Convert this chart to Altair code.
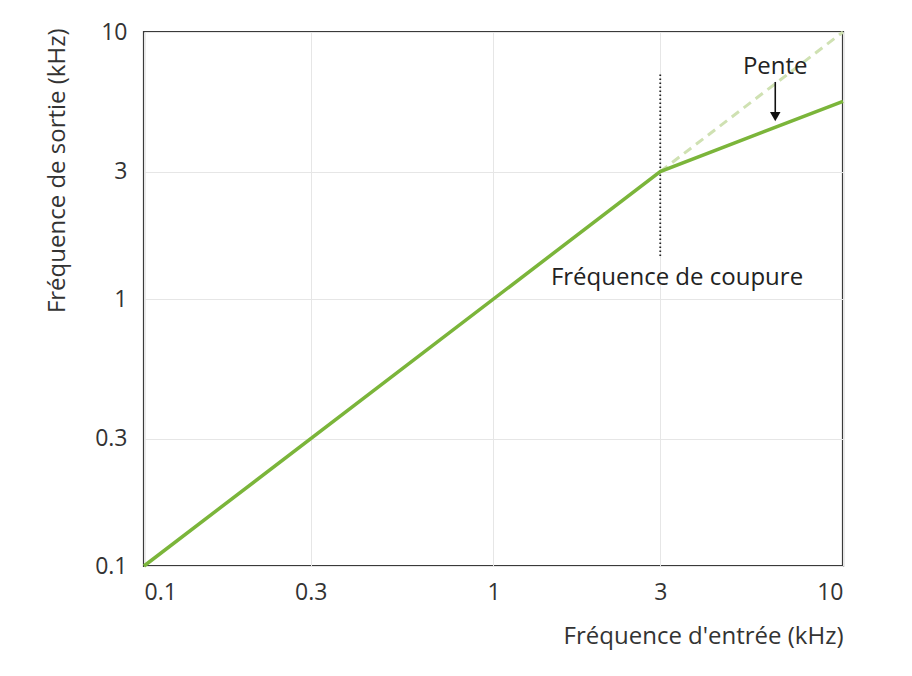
import altair as alt
import pandas as pd

# Data
main_x = [0.1, 3.0, 10.0]
main_y = [0.1, 3.0, 5.5]
dash_x = [3.0, 10.0]
dash_y = [3.0, 10.0]
cut_x = [3.0, 3.0]
cut_y = [1.45, 7.0]
arrow_x = [6.4, 6.4]
arrow_y = [6.5, 4.95]
head_x = [6.4]
head_y = [4.82]
tick_vals = [0.1, 0.3, 1, 3, 10]
notes = ["Pente", "Fréquence de coupure"]
note_x = [6.4, 3.35]
note_y = [6.95, 1.13]

FONT = "Open Sans"

xs = alt.Scale(type="log", domain=[0.1, 10], nice=False)
ys = alt.Scale(type="log", domain=[0.1, 10], nice=False)

xaxis = alt.Axis(values=tick_vals, format="~g", title="Fréquence d'entrée (kHz)",
                 grid=True, gridColor="#e6e6e6", ticks=False, tickSize=0, domain=False,
                 labelFont=FONT, labelFontSize=23, labelColor="#333", labelPadding=15,
                 titleFont=FONT, titleFontSize=24, titleFontWeight="normal", titleColor="#333",
                 titleAnchor="end", titleAlign="right", titleX=699, titleY=77,
                 titleBaseline="alphabetic")
yaxis = alt.Axis(values=tick_vals, format="~g", title="Fréquence de sortie (kHz)",
                 grid=True, gridColor="#e6e6e6", ticks=False, tickSize=0, domain=False,
                 labelFont=FONT, labelFontSize=23, labelColor="#333", labelPadding=17,
                 titleFont=FONT, titleFontSize=24, titleFontWeight="normal", titleColor="#333",
                 titleAngle=-90, titleAlign="right", titleX=-80, titleY=-4,
                 titleBaseline="alphabetic")

main_df = pd.DataFrame({"x": main_x, "y": main_y})
dash_df = pd.DataFrame({"x": dash_x, "y": dash_y})
cut_df = pd.DataFrame({"x": cut_x, "y": cut_y})
arrow_df = pd.DataFrame({"x": arrow_x, "y": arrow_y})
head_df = pd.DataFrame({"x": head_x, "y": head_y})
note_df = pd.DataFrame({"t": notes, "x": note_x, "y": note_y})

base_axes = alt.Chart(main_df).mark_line(color="#7bb53a", strokeWidth=3.5).encode(
    x=alt.X("x:Q", scale=xs, axis=xaxis),
    y=alt.Y("y:Q", scale=ys, axis=yaxis),
)

dash = alt.Chart(dash_df).mark_line(color="#cfe1b2", strokeWidth=3, strokeDash=[9, 6]).encode(
    x=alt.X("x:Q", scale=xs), y=alt.Y("y:Q", scale=ys))

cut = alt.Chart(cut_df).mark_line(color="#222", strokeWidth=1.8, strokeDash=[1.5, 2.5]).encode(
    x=alt.X("x:Q", scale=xs), y=alt.Y("y:Q", scale=ys))

arrow = alt.Chart(arrow_df).mark_line(color="#111", strokeWidth=1.6).encode(
    x=alt.X("x:Q", scale=xs), y=alt.Y("y:Q", scale=ys))

head = alt.Chart(head_df).mark_point(shape="triangle-down", filled=True, color="#111",
                                     size=110, opacity=1).encode(
    x=alt.X("x:Q", scale=xs), y=alt.Y("y:Q", scale=ys))

text = alt.Chart(note_df).mark_text(font=FONT, fontSize=24, color="#222",
                                    align="center", baseline="alphabetic").encode(
    x=alt.X("x:Q", scale=xs), y=alt.Y("y:Q", scale=ys), text="t:N")

chart = alt.layer(dash, cut, base_axes, arrow, head, text).properties(
    width=699, height=534,
    autosize=alt.AutoSizeParams(type="none"),
    padding={"left": 136, "top": 24, "right": 40, "bottom": 90},
).configure_view(stroke="#3a3a3a", strokeWidth=2.2)

chart.save("out.html", embed_options={"renderer": "svg", "actions": False})
